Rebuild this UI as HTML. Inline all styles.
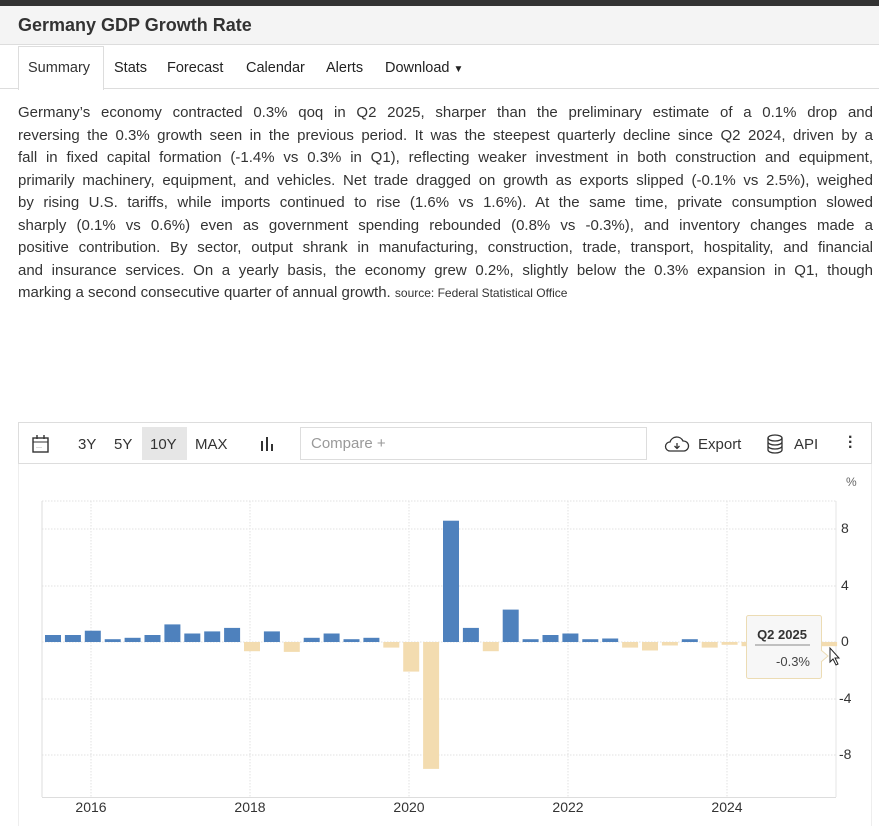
<!DOCTYPE html>
<html><head><meta charset="utf-8"><style>
*{margin:0;padding:0;box-sizing:border-box}
body{width:879px;height:826px;overflow:hidden;background:#fff;font-family:"Liberation Sans",sans-serif;color:#333;position:relative}
.top{position:absolute;left:0;top:0;width:879px;height:6px;background:#333}
.hdr{position:absolute;left:0;top:6px;width:879px;height:39px;background:#f4f4f4;border-bottom:1px solid #ddd}
.hdr h1{font-size:18px;font-weight:bold;position:absolute;left:18px;top:9px;color:#333}
.tabs{position:absolute;top:46px;left:0;width:879px;height:43px;border-bottom:1px solid #ddd}
.tab{position:absolute;top:14px;font-size:14.5px;color:#222}
.active{position:absolute;left:18px;top:0;width:86px;height:44px;background:#fff;border:1px solid #ddd;border-bottom:none}
.txt{position:absolute;left:18px;top:102px;width:855px;font-size:15px;line-height:22.5px;color:#333}
.txt div{text-align:justify;text-align-last:justify;white-space:nowrap;height:22.5px}
.txt div.l{text-align-last:left}
.txt small{font-size:12px}
.tb{position:absolute;left:18px;top:422px;width:854px;height:42px;border:1px solid #ddd;font-size:15px;color:#333}
.tb span{position:absolute;top:13px}
.cmp{position:absolute;left:281px;top:4px;width:347px;height:33px;border:1px solid #ddd;color:#999;padding:7px 10px}
.frame{position:absolute;left:18px;top:463px;width:854px;height:363px;border-left:1px solid #eee;border-right:1px solid #eee}
</style></head><body>
<div class="top"></div>
<div class="hdr"><h1>Germany GDP Growth Rate</h1></div>
<div class="tabs">
<div class="active"></div>
<span class="tab" style="left:28px;color:#333">Summary</span>
<span class="tab" style="left:114px">Stats</span>
<span class="tab" style="left:167px">Forecast</span>
<span class="tab" style="left:246px">Calendar</span>
<span class="tab" style="left:326px">Alerts</span>
<span class="tab" style="left:385px">Download <span style="font-size:10px">▼</span></span>
</div>
<div class="txt">
<div>Germany’s economy contracted 0.3% qoq in Q2 2025, sharper than the preliminary estimate of a 0.1% drop and</div>
<div>reversing the 0.3% growth seen in the previous period. It was the steepest quarterly decline since Q2 2024, driven by a</div>
<div>fall in fixed capital formation (-1.4% vs 0.3% in Q1), reflecting weaker investment in both construction and equipment,</div>
<div>primarily machinery, equipment, and vehicles. Net trade dragged on growth as exports slipped (-0.1% vs 2.5%), weighed</div>
<div>by rising U.S. tariffs, while imports continued to rise (1.6% vs 1.6%). At the same time, private consumption slowed</div>
<div>sharply (0.1% vs 0.6%) even as government spending rebounded (0.8% vs -0.3%), and inventory changes made a</div>
<div>positive contribution. By sector, output shrank in manufacturing, construction, trade, transport, hospitality, and financial</div>
<div>and insurance services. On a yearly basis, the economy grew 0.2%, slightly below the 0.3% expansion in Q1, though</div>
<div class="l">marking a second consecutive quarter of annual growth. <small>source: Federal Statistical Office</small></div>
</div>
<div class="frame"></div>
<div class="tb">
<svg style="position:absolute;left:12px;top:11px" width="20" height="20"><rect x="2" y="4" width="15" height="14" fill="none" stroke="#333" stroke-width="1.4"/><line x1="2" y1="8" x2="17" y2="8" stroke="#333"/><line x1="6" y1="1" x2="6" y2="5" stroke="#333" stroke-width="1.4"/><line x1="13" y1="1" x2="13" y2="5" stroke="#333" stroke-width="1.4"/><text x="5" y="15" font-size="6" fill="#333">···</text></svg>
<span style="left:59px">3Y</span><span style="left:95px">5Y</span>
<div style="position:absolute;left:123px;top:4px;width:45px;height:33px;background:#e6e6e6"></div>
<span style="left:131px">10Y</span><span style="left:176px">MAX</span>
<svg style="position:absolute;left:241px;top:13px" width="16" height="16"><rect x="1" y="5" width="2" height="10" fill="#333"/><rect x="6" y="1" width="2" height="14" fill="#333"/><rect x="11" y="8" width="2" height="7" fill="#333"/></svg>
<div class="cmp">Compare +</div>
<svg style="position:absolute;left:645px;top:12px" width="26" height="18"><path d="M6 16 H20 A5 5 0 0 0 19 6 A7 7 0 0 0 6 7 A4.5 4.5 0 0 0 6 16Z" fill="none" stroke="#333" stroke-width="1.3"/><path d="M13 8 V13 M10.5 11 L13 13.5 L15.5 11" stroke="#333" fill="none" stroke-width="1.3"/></svg>
<span style="left:679px">Export</span>
<svg style="position:absolute;left:747px;top:11px" width="18" height="20"><ellipse cx="9" cy="4" rx="7" ry="3" fill="none" stroke="#333" stroke-width="1.3"/><path d="M2 4 V16 A7 3 0 0 0 16 16 V4 M2 8 A7 3 0 0 0 16 8 M2 12 A7 3 0 0 0 16 12" fill="none" stroke="#333" stroke-width="1.3"/></svg>
<span style="left:775px">API</span>
<span style="left:829px;font-weight:bold;line-height:5px;top:12px;font-size:16px">·<br>·<br>·</span>
</div>
<svg style="position:absolute;left:0;top:464px" width="879" height="362" viewBox="0 464 879 362">
<text x="846" y="486" font-size="12" fill="#666">%</text>
<g stroke="#e2e2e2" stroke-dasharray="1.5,1.5" stroke-width="1">
<line x1="42" y1="501" x2="836" y2="501"/><line x1="42" y1="529" x2="836" y2="529"/><line x1="42" y1="586" x2="836" y2="586"/><line x1="42" y1="642" x2="836" y2="642"/><line x1="42" y1="699" x2="836" y2="699"/><line x1="42" y1="755" x2="836" y2="755"/>
<line x1="91" y1="501" x2="91" y2="797"/><line x1="250" y1="501" x2="250" y2="797"/><line x1="409" y1="501" x2="409" y2="797"/><line x1="568" y1="501" x2="568" y2="797"/><line x1="727" y1="501" x2="727" y2="797"/>
</g>
<line x1="42" y1="501" x2="42" y2="797" stroke="#ddd"/>
<line x1="42" y1="797.5" x2="836" y2="797.5" stroke="#ddd"/>
<line x1="836" y1="501" x2="836" y2="797" stroke="#e6e6e6"/>
<g id="bars"></g>
<g font-size="14" fill="#333">
<text x="841" y="533">8</text><text x="841" y="590">4</text><text x="841" y="646">0</text><text x="839" y="703">-4</text><text x="839" y="759">-8</text>
<text x="91" y="812" text-anchor="middle">2016</text><text x="250" y="812" text-anchor="middle">2018</text><text x="409" y="812" text-anchor="middle">2020</text><text x="568" y="812" text-anchor="middle">2022</text><text x="727" y="812" text-anchor="middle">2024</text>
</g>
<rect x="746.5" y="615.5" width="75" height="63" fill="#f7f7f7" stroke="#ecdcb4" rx="2"/>
<path d="M821 650 L828 656 L821 662" fill="#f7f7f7" stroke="#ecdcb4"/>
<text x="782" y="639" font-size="13" font-weight="bold" fill="#333" text-anchor="middle">Q2 2025</text>
<line x1="755" y1="645" x2="810" y2="645" stroke="#888"/>
<text x="810" y="666" font-size="13" fill="#444" text-anchor="end">-0.3%</text>
<path d="M830 648 L830 662 L833 659 L836 665 L838 664 L835 658 L839 658 Z" fill="#fff" stroke="#222" stroke-width="1"/>
</svg>
<script>
var v=[0.5,0.5,0.8,0.2,0.3,0.5,1.25,0.6,0.75,1.0,-0.65,0.75,-0.7,0.3,0.6,0.2,0.3,-0.4,-2.1,-9.0,8.6,1.0,-0.65,2.3,0.2,0.5,0.6,0.2,0.25,-0.4,-0.6,-0.25,0.2,-0.4,-0.2,-0.3,0.1,-0.2,0.3,-0.3];
var g=document.getElementById('bars'),s='';
for(var i=0;i<v.length;i++){var x=45+i*19.9,h=Math.abs(v[i])*14.1,y=v[i]>0?642-h:642;
s+='<rect x="'+x.toFixed(1)+'" y="'+y.toFixed(1)+'" width="16" height="'+h.toFixed(1)+'" fill="'+(v[i]>0?'#4e81bd':'#f3dcb0')+'"/>';}
g.innerHTML=s;
</script>
</body></html>
